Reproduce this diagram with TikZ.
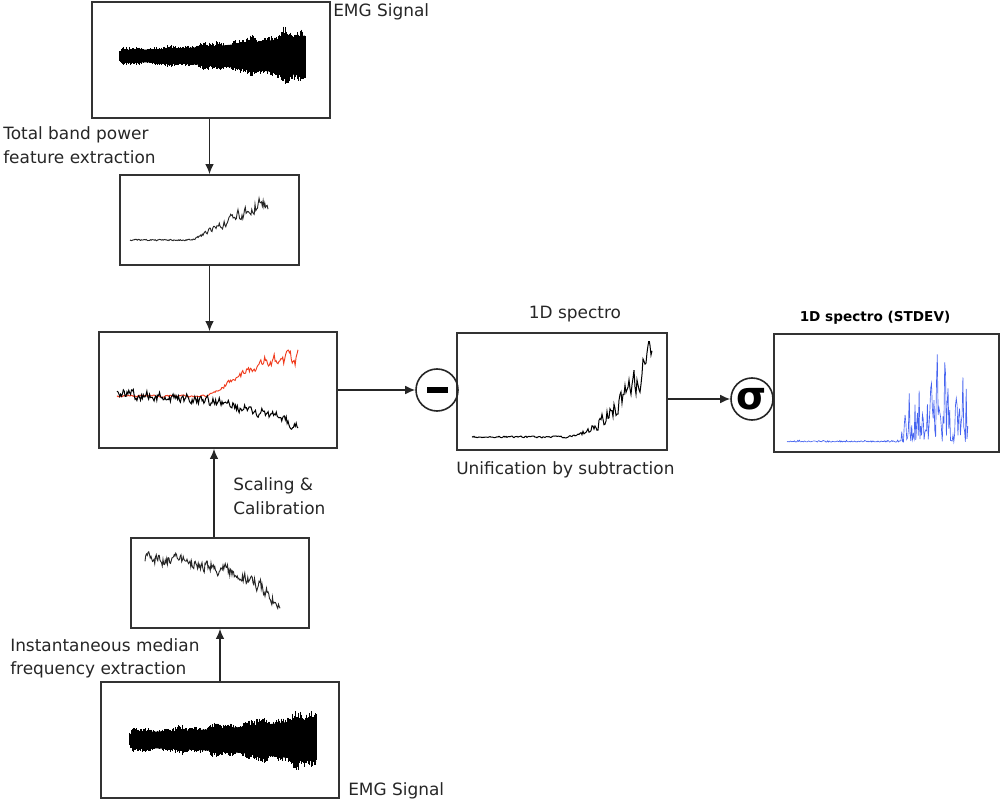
\documentclass[tikz,border=0pt]{standalone}
\usepackage{fontspec}
\setmainfont{DejaVu Sans}
\usetikzlibrary{arrows.meta}
\definecolor{plotblue}{RGB}{70,100,240}
\definecolor{plotred}{RGB}{240,60,30}
\newcommand\myemg[5]{%
 \fill[black] plot[domain=0:1,samples=60] ({#1+\x*#2},{#3-(#4+(#5-#4)*\x*\x)*0.68*min(1,0.5+\x*25)})
   -- plot[domain=1:0,samples=60] ({#1+\x*#2},{#3+(#4+(#5-#4)*\x*\x)*0.68*min(1,0.5+\x*25)}) -- cycle;
 \foreach \i in {0,...,240}{%
   \pgfmathsetmacro\myt{\i/240}%
   \pgfmathsetmacro\myx{#1+\myt*#2}%
   \pgfmathsetmacro\mya{(#4+(#5-#4)*\myt*\myt)*min(1,0.5+\myt*25)*(1+0.12*sin(\myt*1700)+0.08*sin(\myt*4100+40))}%
   \pgfmathsetmacro\myu{#3-\mya*(0.66+0.25*rnd+0.6*rnd*rnd*rnd*rnd*rnd*rnd)}%
   \pgfmathsetmacro\myd{#3+\mya*(0.66+0.25*rnd+0.6*rnd*rnd*rnd*rnd*rnd*rnd)}%
   \draw[line width=0.5pt] (\myx,\myu) -- (\myx,\myd);
 }}
% random-walk style noisy line: #1 style, #2 x0, #3 width, #4 samples, #5 trend, #6 noise amp, #7 memory
\newcommand\mywalk[7]{%
 \gdef\mylist{}\gdef\myw{0}%
 \foreach \i in {0,...,#4}{%
   \pgfmathsetmacro\myt{\i/#4}%
   \pgfmathsetmacro\mynew{#7*\myw+(#6)*rand}%
   \xdef\myw{\mynew}%
   \pgfmathsetmacro\myx{#2+\myt*#3}%
   \pgfmathsetmacro\myy{#5+\myw}%
   \xdef\mylist{\mylist (\myx,\myy)}%
 }%
 \draw[#1] plot coordinates {\mylist};}
\begin{document}
\begin{tikzpicture}[x=0.75pt,y=-0.75pt,
  box/.style={draw=black!80, line width=1.3pt, rectangle, inner sep=0},
  arr/.style={-{Latex[length=7.5pt,width=6.5pt]}, line width=1pt, draw=black!85},
  lbl/.style={font=\fontsize{12.7}{15}\selectfont, text=black!85, inner sep=0, anchor=base west},
  op/.style={circle, draw=black!85, line width=1.2pt, minimum size=31.5pt, inner sep=0}]
\useasboundingbox (0,0) rectangle (1000,802);
\pgfmathsetseed{4711}

% boxes
\node[box, minimum width=178.5pt, minimum height=87pt] (emg1) at (211,60) {};
\node[box, minimum width=134.25pt, minimum height=67.5pt] (tbp) at (209.5,220) {};
\node[box, minimum width=178.5pt, minimum height=87pt] (cal) at (218,390) {};
\node[box, minimum width=157.5pt, minimum height=87.75pt] (spec) at (562,391.5) {};
\node[box, minimum width=168.75pt, minimum height=88.5pt] (stdev) at (886.5,393) {};
\node[box, minimum width=133.5pt, minimum height=67.5pt] (imf) at (220,583) {};
\node[box, minimum width=178.5pt, minimum height=87pt] (emg2) at (220,740) {};

\node[op] (minus) at (437,390) {};
\fill[black] (426.5,387) rectangle (447.5,393);
\node[op, font=\fontsize{29}{29}\bfseries\selectfont] (sigma) at (752,399) {\raisebox{0.5pt}{σ}};

% arrows
\draw[arr] (emg1.south -| tbp.north) -- (tbp.north);
\draw[arr] (tbp.south) -- (tbp.south |- cal.north);
\draw[arr] ([xshift=-4.5pt]imf.north) -- ([xshift=-4.5pt]imf.north |- cal.south);
\draw[arr] (emg2.north) -- (emg2.north |- imf.south);
\draw[arr] (cal.east) -- (minus.west);
\draw[arr] (spec.east |- sigma) -- (sigma.west);

% labels
\node[lbl] (l1) at (333,17) {EMG Signal};
\node[lbl] (l2) at (3,140) {Total band power};
\node[lbl] (l3) at (3,164) {feature extraction};
\node[lbl, anchor=base] (l4) at (575,319) {1D spectro};
\node[lbl] (l5) at (456,474) {Unification by subtraction};
\node[lbl] (l6) at (233,490) {Scaling \&};
\node[lbl] (l7) at (233,514) {Calibration};
\node[lbl] (l8) at (10,651) {Instantaneous median};
\node[lbl] (l9) at (10,674) {frequency extraction};
\node[lbl] (l10) at (348,795) {EMG Signal};
\node[lbl, anchor=base, font=\fontsize{10.2}{12}\bfseries\selectfont, text=black] (l11) at (875,322) {1D spectro (STDEV)};

% EMG signals
\myemg{119}{186}{56}{9}{30}
\myemg{129}{187}{740}{12}{32}

% total band power
\mywalk{black!85, line width=0.7pt}{130}{138}{170}{240-40*max(\myt-0.45,0)/0.55}{0.6+7*max(\myt-0.45,0)/0.55}{0.5}

% calibration plot
\mywalk{plotred, line width=0.7pt}{117}{181}{190}{396-37*min(1,max(0,(\myt-0.5)/0.33))}{0.8+6*max(\myt-0.5,0)/0.5}{0.5}
\mywalk{black, line width=0.75pt}{117}{181}{200}{393+14*\myt+20*\myt*\myt*\myt*\myt}{4.5}{0.5}

% imf plot
\mywalk{black!85, line width=0.7pt}{145}{135}{180}{556+20*\myt+34*\myt*\myt*\myt*\myt*\myt*\myt}{5.5}{0.45}

% 1D spectro
\begin{scope}
\clip (460,342) rectangle (664,448);
\mywalk{black, line width=0.75pt}{472}{180}{180}{437-80*max(0,(\myt-0.5)/0.5)*max(0,(\myt-0.5)/0.5)}{0.8+16*max(0,\myt-0.58)/0.42}{0.4}
\end{scope}

% STDEV
\draw[plotblue, line width=0.5pt] plot[domain=0:1, samples=220]
  ({787+\x*181},{442-(2+14*max(0,\x-0.55)+100*min(1,max(0,(\x-0.62)/0.08)))*rnd*rnd});
\end{tikzpicture}
\end{document}
